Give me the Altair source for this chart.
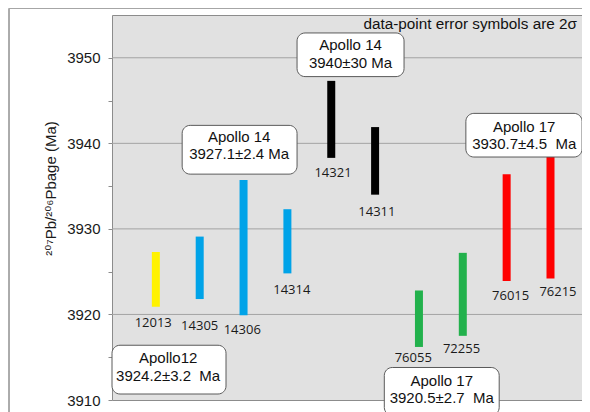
import altair as alt
import pandas as pd

# ---- data ----
samples = ["12013", "14305", "14306", "14314", "14321", "14311", "76055", "72255", "76015", "76215"]
positions = [1, 2, 3, 4, 5, 6, 7, 8, 9, 10]
age_low = [3920.9, 3921.8, 3919.9, 3924.8, 3938.3, 3934.0, 3916.2, 3917.5, 3923.9, 3924.2]
age_high = [3927.3, 3929.1, 3935.7, 3932.3, 3947.3, 3941.9, 3922.8, 3927.2, 3936.4, 3938.4]
bar_colors = ["#fff200", "#00a3e8", "#00a3e8", "#00a3e8", "#000000", "#000000",
              "#22b14c", "#22b14c", "#ff0000", "#ff0000"]
label_pos = [0.94, 2.0, 2.97, 4.1, 5.04, 6.04, 6.87, 7.97, 9.09, 10.17]
label_age = [3919.0, 3918.7, 3918.2, 3922.9, 3936.5, 3932.0, 3914.9, 3916.0, 3922.2, 3922.6]

box_line1 = ["Apollo 14", "Apollo 14", "Apollo 17", "Apollo12", "Apollo 17"]
box_line2 = ["3927.1±2.4 Ma", "3940±30 Ma", "3930.7±4.5\u00a0 Ma",
             "3924.2±3.2\u00a0 Ma", "3920.5±2.7\u00a0 Ma"]
box_x1 = [1.60, 4.22, 8.07, 0.0, 6.21]
box_x2 = [4.22, 6.66, 10.72, 2.60, 8.83]
box_top = [3942.1, 3952.9, 3943.5, 3916.4, 3913.8]
box_bottom = [3936.4, 3947.8, 3938.4, 3910.7, 3908.2]
box_text_x = [2.90, 5.44, 9.40, 1.28, 7.52]
box_line1_y = [3940.78, 3951.51, 3941.92, 3914.87, 3912.22]
box_line2_y = [3938.72, 3949.44, 3939.90, 3912.84, 3910.20]

grid_values = [3920, 3930, 3940, 3950]
tick_values = [3910, 3915, 3920, 3925, 3930, 3935, 3940, 3945, 3950]
note_text = ["data-point error symbols are 2σ"]
note_x = [10.604]
note_y = [3953.95]

W, H = 470, 385
xscale = alt.Scale(domain=[0, 470 / 43.85], nice=False, zero=False)
yscale = alt.Scale(domain=[3910, 3955], nice=False, zero=False)

bars_df = pd.DataFrame({"sample": samples, "pos": positions, "low": age_low,
                        "high": age_high, "color": bar_colors,
                        "lx": label_pos, "ly": label_age})
box_df = pd.DataFrame({"l1": box_line1, "l2": box_line2, "x1": box_x1, "x2": box_x2,
                       "y1": box_top, "y2": box_bottom, "tx": box_text_x,
                       "ty1": box_line1_y, "ty2": box_line2_y})
grid_df = pd.DataFrame({"v": grid_values})
note_df = pd.DataFrame({"t": note_text, "x": note_x, "y": note_y})

yaxis = alt.Axis(values=tick_values, format="d",
                 labelExpr="datum.value % 10 === 0 ? datum.label : ''",
                 grid=False, domain=False, tickSize=4, tickColor="#8c8c8c",
                 labelFont="Liberation Sans", labelFontSize=15, labelColor="#1a1a1a",
                 labelPadding=8,
                 title="²⁰⁷Pb/²⁰⁶Pbage (Ma)", titleFont="Liberation Sans, DejaVu Sans",
                 titleFontSize=15, titleFontWeight="normal", titleColor="#1a1a1a",
                 titleX=-62, titleY=173, titleAngle=-90, titleAlign="center",
                 titleBaseline="middle")

frame_v = alt.Chart(grid_df).mark_rule(color="#a6a6a6", strokeWidth=1).encode(
    x=alt.value(-103), y=alt.value(-6.5), y2=alt.value(H + 20))
frame_h = alt.Chart(grid_df).mark_rule(color="#a6a6a6", strokeWidth=1).encode(
    x=alt.value(-103), x2=alt.value(W + 10), y=alt.value(-6.5))

grid = alt.Chart(grid_df).mark_rule(color="#a3a3a3", strokeWidth=1).encode(
    y=alt.Y("v:Q", scale=yscale, axis=yaxis),
    x=alt.value(0), x2=alt.value(W))

bars = alt.Chart(bars_df).mark_rule(strokeWidth=8).encode(
    x=alt.X("pos:Q", scale=xscale, axis=None),
    y=alt.Y("low:Q", scale=yscale),
    y2="high:Q",
    color=alt.Color("color:N", scale=None))

labels = alt.Chart(bars_df).mark_text(font="Open Sans", fontSize=13, color="#1a1a1a",
                                      baseline="middle", align="center").encode(
    x=alt.X("lx:Q", scale=xscale),
    y=alt.Y("ly:Q", scale=yscale),
    text="sample:N")

boxes = alt.Chart(box_df).mark_rect(fill="white", stroke="#5a5a5a", strokeWidth=1,
                                    cornerRadius=8).encode(
    x=alt.X("x1:Q", scale=xscale), x2="x2:Q",
    y=alt.Y("y1:Q", scale=yscale), y2="y2:Q")

box_l1 = alt.Chart(box_df).mark_text(font="Liberation Sans", fontSize=15,
                                     color="#111111", align="center",
                                     baseline="middle").encode(
    x=alt.X("tx:Q", scale=xscale),
    y=alt.Y("ty1:Q", scale=yscale),
    text="l1:N")

box_l2 = alt.Chart(box_df).mark_text(font="Liberation Sans", fontSize=15,
                                     color="#111111", align="center",
                                     baseline="middle").encode(
    x=alt.X("tx:Q", scale=xscale),
    y=alt.Y("ty2:Q", scale=yscale),
    text="l2:N")

note = alt.Chart(note_df).mark_text(font="Liberation Sans", fontSize=15.3, color="#111111",
                                    align="right", baseline="middle").encode(
    x=alt.X("x:Q", scale=xscale),
    y=alt.Y("y:Q", scale=yscale),
    text="t:N")

chart = alt.layer(frame_v, frame_h, grid, bars, labels, boxes, box_l1, box_l2, note).properties(
    width=W, height=H,
    autosize=alt.AutoSizeParams(type="none"),
    padding={"left": 104, "top": 7, "right": 0, "bottom": 12},
    background="white",
).configure_view(fill="#e1e1e1", stroke="#8c8c8c", strokeWidth=1)

chart.save("out.html", embed_options={"renderer": "svg", "actions": False})
